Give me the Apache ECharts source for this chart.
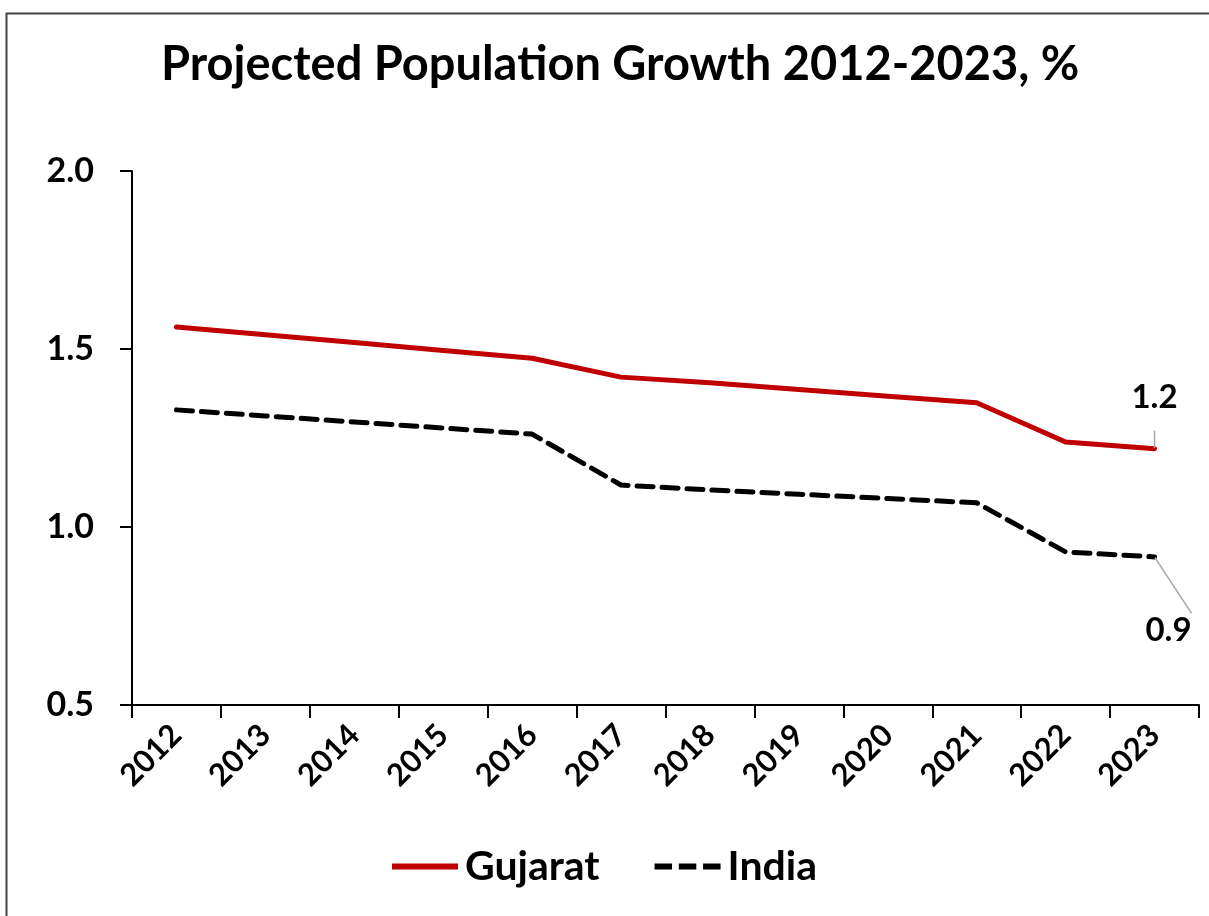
<!DOCTYPE html>
<html>
<head>
<meta charset="utf-8">
<script src="https://cdn.jsdelivr.net/npm/echarts@6/dist/echarts.min.js"></script>
<style>
html,body{margin:0;padding:0;background:#fff;}
#chart{width:1209px;height:916px;}
</style>
</head>
<body>
<div id="chart"></div>
<script>
const years = ['2012','2013','2014','2015','2016','2017','2018','2019','2020','2021','2022','2023'];
const gujarat = [1.562, 1.540, 1.518, 1.496, 1.474, 1.421, 1.405, 1.386, 1.367, 1.349, 1.239, 1.220];
const india = [1.329, 1.312, 1.295, 1.278, 1.261, 1.118, 1.104, 1.092, 1.080, 1.068, 0.930, 0.916];
const yTicks = [0.5, 1.0, 1.5, 2.0];

const FONT = 'Lato';
const chart = echarts.init(document.getElementById('chart'));
const lastIdx = years.length - 1;

function withLastLabel(arr, labelOpt) {
  return arr.map((v, i) => i === lastIdx ? { value: v, label: labelOpt } : v);
}

chart.setOption({
  backgroundColor: '#fff',
  animation: false,
  graphic: [{
    type: 'rect', left: 4, top: 11, shape: { width: 1230, height: 930 },
    style: { fill: 'none', stroke: '#444', lineWidth: 2 }, z: 100
  }],
  title: {
    text: 'Projected Population Growth 2012-2023, %',
    left: 156, top: 36,
    textStyle: { fontFamily: FONT, fontWeight: 'bold', fontSize: 47, color: '#000' }
  },
  grid: { left: 132, right: 10, top: 171, bottom: 211, containLabel: false },
  legend: {
    bottom: 24, left: 'center',
    itemWidth: 66, itemHeight: 6, itemGap: 55,
    textStyle: { fontFamily: FONT, fontWeight: 'bold', fontSize: 41, color: '#000', padding: [0, 0, 0, 2] },
    data: [
      { name: 'Gujarat', icon: 'path://M0,0H68V6H0Z', itemStyle: { color: '#C00000' } },
      { name: 'India', icon: 'path://M0,0H18V6H0Z M25,0H43V6H25Z M50,0H68V6H50Z', itemStyle: { color: '#000' } }
    ]
  },
  xAxis: {
    type: 'category', data: years, boundaryGap: true,
    axisLine: { lineStyle: { color: '#000', width: 2 } },
    axisTick: { show: true, length: 13, lineStyle: { color: '#000', width: 2 } },
    axisLabel: { rotate: 45, fontFamily: FONT, fontWeight: 'bold', fontSize: 31, color: '#000', margin: 25 }
  },
  yAxis: {
    type: 'value', min: yTicks[0], max: yTicks[yTicks.length - 1], interval: 0.5,
    axisLine: { show: true, lineStyle: { color: '#000', width: 2 } },
    axisTick: { show: true, length: 12, lineStyle: { color: '#000', width: 2 } },
    splitLine: { show: false },
    axisLabel: { fontFamily: FONT, fontWeight: 'bold', fontSize: 34, color: '#000', margin: 38,
      formatter: v => v.toFixed(1) }
  },
  series: [
    {
      name: 'Gujarat', type: 'line', symbol: 'circle', symbolSize: 1, showSymbol: true,
      data: withLastLabel(gujarat, { show: true, position: 'top', distance: 34, fontFamily: FONT, fontWeight: 'bold', fontSize: 33, color: '#000', formatter: p => p.value.toFixed(1) }),
      lineStyle: { color: '#C00000', width: 5, cap: 'round', join: 'round' },
      itemStyle: { color: '#C00000' },
      labelLine: { show: true, lineStyle: { color: '#a6a6a6', width: 1.5 } }
    },
    {
      name: 'India', type: 'line', symbol: 'circle', symbolSize: 1, showSymbol: true,
      data: withLastLabel(india, { show: true, position: 'bottom', distance: 56, offset: [14, 0], fontFamily: FONT, fontWeight: 'bold', fontSize: 33, color: '#000', formatter: p => p.value.toFixed(1) }),
      lineStyle: { color: '#000', width: 5, type: [16, 9], cap: 'round', join: 'round' },
      itemStyle: { color: '#000' },
      labelLine: { show: true, lineStyle: { color: '#a6a6a6', width: 1.5 } }
    }
  ]
});
</script>
</body>
</html>
